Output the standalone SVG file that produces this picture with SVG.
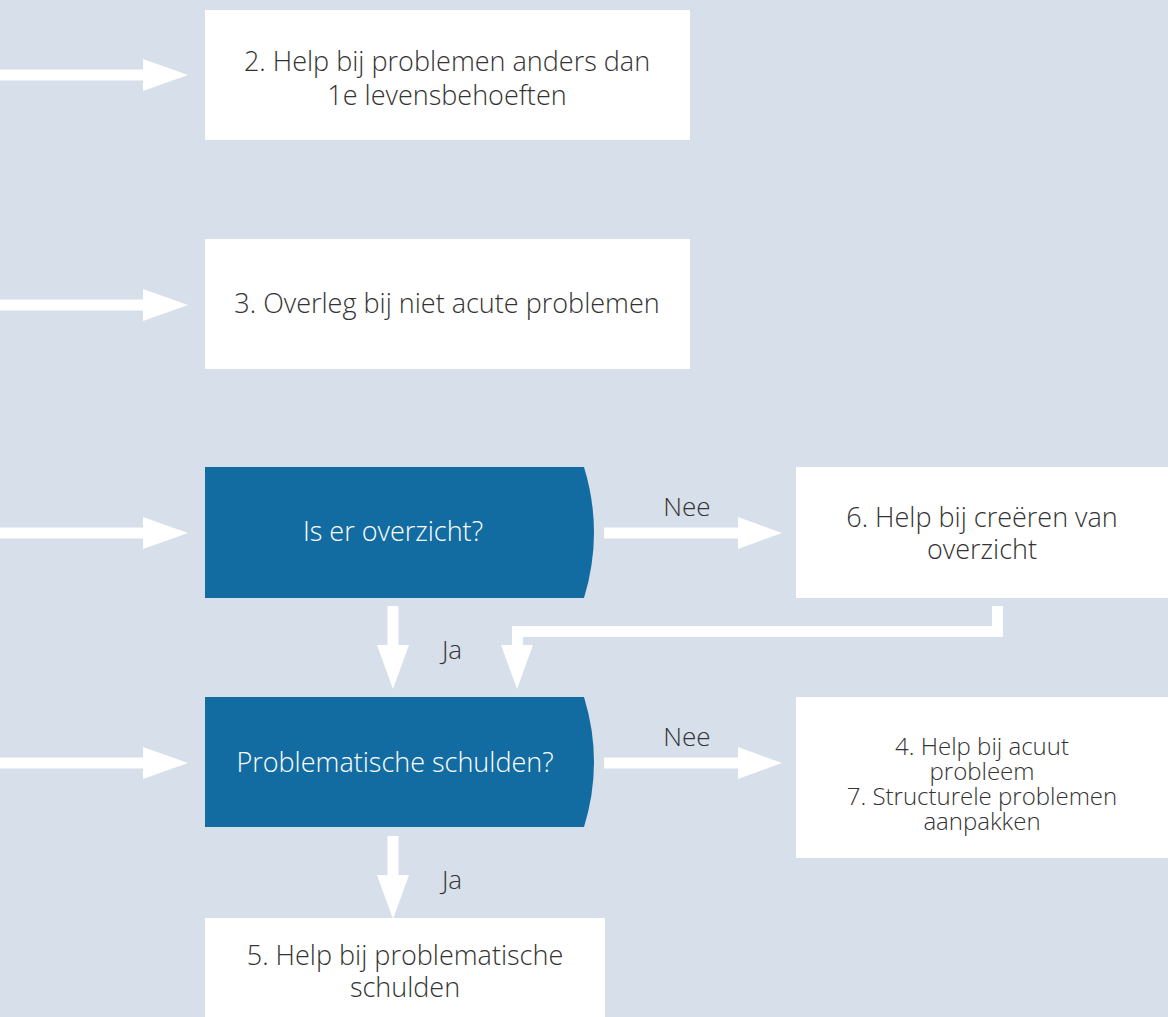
<svg xmlns="http://www.w3.org/2000/svg" width="1168" height="1017" viewBox="0 0 1168 1017">
<style>
.bg{fill:#d7dfeb}
.box{fill:#ffffff}
.dec{fill:#136ca1}
.arr{fill:#ffffff}
.t{font-family:"Open Sans","Liberation Sans",sans-serif;font-weight:300;font-size:27px;fill:#333333;text-anchor:middle}
.ts{font-family:"Open Sans","Liberation Sans",sans-serif;font-weight:300;font-size:24px;fill:#333333;text-anchor:middle}
.tw{font-family:"Open Sans","Liberation Sans",sans-serif;font-weight:300;font-size:27px;fill:#ffffff;text-anchor:middle}
.lbl{font-family:"Open Sans","Liberation Sans",sans-serif;font-weight:300;font-size:26px;fill:#333333;text-anchor:middle}
</style>
<rect class="bg" x="0" y="0" width="1168" height="1017"/>
<g id="connectors">
<polygon class="arr" points="0,69.5 143,69.5 143,59 188,75 143,91 143,80.5 0,80.5"/>
<polygon class="arr" points="0,299.5 143,299.5 143,289 188,305 143,321 143,310.5 0,310.5"/>
<polygon class="arr" points="0,527.5 143,527.5 143,517 188,533 143,549 143,538.5 0,538.5"/>
<polygon class="arr" points="0,757.5 143,757.5 143,747 188,763 143,779 143,768.5 0,768.5"/>
<polygon class="arr" points="604,527.5 738,527.5 738,517 782,533 738,549 738,538.5 604,538.5"/>
<text class="lbl" x="687" y="516">Nee</text>
<polygon class="arr" points="604,757.5 738,757.5 738,747 782,763 738,779 738,768.5 604,768.5"/>
<text class="lbl" x="687" y="746">Nee</text>
<polygon class="arr" points="387.5,606 398.5,606 398.5,645 409,645 393,689 377,645 387.5,645"/>
<text class="lbl" x="452" y="659">Ja</text>
<polygon class="arr" points="387.5,836 398.5,836 398.5,875 409,875 393,919 377,875 387.5,875"/>
<text class="lbl" x="452" y="889">Ja</text>
<polygon class="arr" points="992,606 1003,606 1003,637 523,637 523,645 533,645 517,689 501,645 512,645 512,626 992,626"/>
</g>
<g id="node2">
<rect class="box" x="205" y="10" width="485" height="130"/>
<text class="t" x="447" y="71">2. Help bij problemen anders dan</text>
<text class="t" x="447" y="105">1e levensbehoeften</text>
</g>
<g id="node3">
<rect class="box" x="205" y="239" width="485" height="130"/>
<text class="t" x="447" y="313">3. Overleg bij niet acute problemen</text>
</g>
<g id="decision1">
<path class="dec" d="M205,467 H584 Q604,532.5 584,598 H205 Z"/>
<text class="tw" x="393" y="541">Is er overzicht?</text>
</g>
<g id="node6">
<rect class="box" x="796" y="467" width="372" height="131"/>
<text class="t" x="982" y="527">6. Help bij creëren van</text>
<text class="t" x="982" y="559">overzicht</text>
</g>
<g id="decision2">
<path class="dec" d="M205,697 H584 Q604,762 584,827 H205 Z"/>
<text class="tw" x="395" y="772">Problematische schulden?</text>
</g>
<g id="node47">
<rect class="box" x="796" y="697" width="372" height="161"/>
<text class="ts" x="982" y="755">4. Help bij acuut</text>
<text class="ts" x="982" y="780">probleem</text>
<text class="ts" x="982" y="805">7. Structurele problemen</text>
<text class="ts" x="982" y="830">aanpakken</text>
</g>
<g id="node5">
<rect class="box" x="205" y="918" width="400" height="99"/>
<text class="t" x="405" y="965">5. Help bij problematische</text>
<text class="t" x="405" y="997">schulden</text>
</g>
</svg>
